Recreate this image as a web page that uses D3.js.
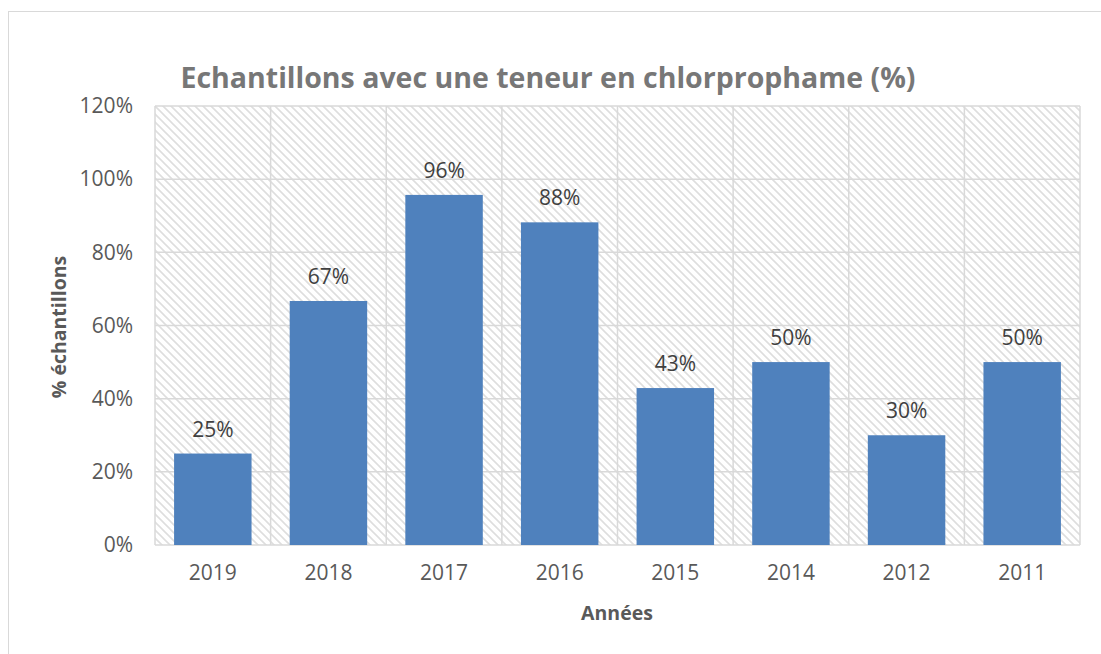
<!DOCTYPE html>
<html>
<head>
<meta charset="utf-8">
<script src="https://cdn.jsdelivr.net/npm/d3@7"></script>
<style>
  body { margin: 0; background: #fff; }
  text { font-family: "Open Sans", "Noto Sans", sans-serif; }
</style>
</head>
<body>
<div id="chart"></div>
<script>
// data
const years = ["2019", "2018", "2017", "2016", "2015", "2014", "2012", "2011"];
const shares = [0.25, 0.667, 0.957, 0.882, 0.429, 0.50, 0.30, 0.50];
const yTicks = [0, 0.2, 0.4, 0.6, 0.8, 1.0, 1.2];

const W = 1101, H = 654;
const margin = { top: 106, right: 21, bottom: 109, left: 155 };
const width = W - margin.left - margin.right;
const height = H - margin.top - margin.bottom;

const root = d3.select("#chart").append("svg")
    .attr("width", W)
    .attr("height", H);

// hatch pattern for the plot background
const pat = root.append("defs").append("pattern")
    .attr("id", "hatch")
    .attr("patternUnits", "userSpaceOnUse")
    .attr("width", 8)
    .attr("height", 8);
pat.append("path")
    .attr("d", "M-2,-2 L10,10 M-2,6 L2,10 M6,-2 L10,2")
    .attr("stroke", "#dedede")
    .attr("stroke-width", 1.6);

// outer chart frame
root.append("rect")
    .attr("x", 8.5).attr("y", 11.5)
    .attr("width", 1110).attr("height", 700)
    .attr("fill", "none")
    .attr("stroke", "#d9d9d9");

const svg = root.append("g")
    .attr("transform", `translate(${margin.left},${margin.top})`);

const x = d3.scaleBand()
    .domain(years)
    .range([0, width])
    .paddingInner(0.33)
    .paddingOuter(0.165);

const band = d3.scaleBand().domain(years).range([0, width]);

const y = d3.scaleLinear()
    .domain([0, 1.2])
    .range([height, 0]);

svg.append("rect")
    .attr("width", width)
    .attr("height", height)
    .attr("fill", "url(#hatch)");

// grid lines
svg.selectAll(".hgrid")
    .data(yTicks)
    .enter().append("line")
    .attr("class", "hgrid")
    .attr("x1", 0).attr("x2", width)
    .attr("y1", d => y(d)).attr("y2", d => y(d))
    .attr("stroke", "#d9d9d9")
    .attr("stroke-width", 1.5);

svg.selectAll(".vgrid")
    .data(years.concat(["end"]))
    .enter().append("line")
    .attr("class", "vgrid")
    .attr("x1", (d, i) => i < years.length ? band(d) : width)
    .attr("x2", (d, i) => i < years.length ? band(d) : width)
    .attr("y1", 0).attr("y2", height)
    .attr("stroke", "#d9d9d9")
    .attr("stroke-width", 1.5);

// bars
svg.selectAll(".bar")
    .data(years)
    .enter().append("rect")
    .attr("class", "bar")
    .attr("x", d => x(d))
    .attr("y", (d, i) => y(shares[i]))
    .attr("width", x.bandwidth())
    .attr("height", (d, i) => height - y(shares[i]))
    .attr("fill", "#4f81bd");

// value labels
svg.selectAll(".bar-label")
    .data(years)
    .enter().append("text")
    .attr("class", "bar-label")
    .attr("x", d => x(d) + x.bandwidth() / 2)
    .attr("y", (d, i) => y(shares[i]) - 17)
    .attr("text-anchor", "middle")
    .attr("font-size", 21)
    .attr("fill", "#404040")
    .text((d, i) => Math.round(shares[i] * 100) + "%");

// axes
const xAxis = svg.append("g")
    .attr("transform", `translate(0,${height})`)
    .call(d3.axisBottom(x).tickSize(0).tickPadding(20));
xAxis.select(".domain").remove();
xAxis.selectAll("text")
    .attr("font-size", 21)
    .attr("fill", "#595959")
    .attr("font-family", "Open Sans, sans-serif");

const yAxis = svg.append("g")
    .call(d3.axisLeft(y).tickValues(yTicks).tickSize(0).tickPadding(22)
        .tickFormat(d => Math.round(d * 100) + "%"));
yAxis.select(".domain").remove();
yAxis.selectAll("text")
    .attr("font-size", 21)
    .attr("fill", "#595959")
    .attr("font-family", "Open Sans, sans-serif");

// titles
root.append("text")
    .attr("x", 548)
    .attr("y", 88)
    .attr("text-anchor", "middle")
    .attr("font-size", 28.5)
    .attr("font-weight", "bold")
    .attr("fill", "#777777")
    .text("Echantillons avec une teneur en chlorprophame (%)");

root.append("text")
    .attr("x", 617)
    .attr("y", 620)
    .attr("text-anchor", "middle")
    .attr("font-size", 19.5)
    .attr("font-weight", "bold")
    .attr("fill", "#595959")
    .text("Années");

root.append("text")
    .attr("transform", "translate(66,327) rotate(-90)")
    .attr("text-anchor", "middle")
    .attr("font-size", 19.5)
    .attr("font-weight", "bold")
    .attr("fill", "#595959")
    .text("% échantillons");
</script>
</body>
</html>
